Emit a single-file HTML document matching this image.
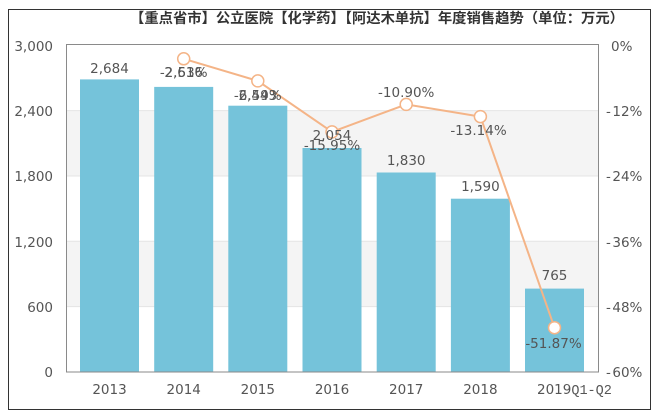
<!DOCTYPE html>
<html><head><meta charset="utf-8">
<style>
html,body{margin:0;padding:0;background:#fff;}
svg{display:block;}
text{font-family:"DejaVu Sans","Liberation Sans",sans-serif;}
</style></head>
<body>
<svg width="662" height="417" viewBox="0 0 662 417" xmlns="http://www.w3.org/2000/svg">
<rect x="0" y="0" width="662" height="417" fill="#fff"/>
<rect x="8.5" y="9.5" width="642" height="400" fill="#fff" stroke="#333" stroke-width="1"/>
<text x="377" y="23" text-anchor="middle" font-size="14" font-weight="bold" fill="#333" textLength="494" lengthAdjust="spacingAndGlyphs" style="font-family:'Liberation Sans','Noto Sans CJK SC',sans-serif">【重点省市】公立医院【化学药】【阿达木单抗】年度销售趋势（单位：万元）</text>
<!-- bands -->
<rect x="66" y="110.6" width="533" height="65.4" fill="#f4f4f4"/>
<rect x="66" y="241.2" width="533" height="65.4" fill="#f4f4f4"/>
<g stroke="#e4e4e4" stroke-width="1">
<line x1="66" y1="110.6" x2="599" y2="110.6"/>
<line x1="66" y1="176" x2="599" y2="176"/>
<line x1="66" y1="241.2" x2="599" y2="241.2"/>
<line x1="66" y1="306.6" x2="599" y2="306.6"/>
</g>
<!-- bars -->
<g fill="#75c3da">
<rect x="80" y="79.4" width="59" height="292.6"/>
<rect x="154.2" y="86.9" width="59" height="285.1"/>
<rect x="228.3" y="105.7" width="59" height="266.3"/>
<rect x="302.5" y="148" width="59" height="224"/>
<rect x="376.7" y="172.5" width="59" height="199.5"/>
<rect x="450.9" y="198.7" width="59" height="173.3"/>
<rect x="525" y="288.6" width="59" height="83.4"/>
</g>
<!-- frame -->
<rect x="66.5" y="44.5" width="532" height="327.5" fill="none" stroke="#8a8a8a" stroke-width="1"/>
<!-- line -->
<polyline points="183.7,58.8 257.8,80.9 332,131.9 406.2,104.4 480.4,116.6 554.5,327.7" fill="none" stroke="#f4b487" stroke-width="2"/>
<g fill="#fff" stroke="#f4b487" stroke-width="1.5">
<circle cx="183.7" cy="58.8" r="6"/>
<circle cx="257.8" cy="80.9" r="6"/>
<circle cx="332" cy="131.9" r="6"/>
<circle cx="406.2" cy="104.4" r="6"/>
<circle cx="480.4" cy="116.6" r="6"/>
<circle cx="554.5" cy="327.7" r="6"/>
</g>
<!-- data labels -->
<g font-size="13.5" fill="#555" text-anchor="middle">
<text x="109.5" y="73">2,684</text>
<text x="183.7" y="77">2,616</text>
<text x="183.7" y="77">-2.53%</text>
<text x="257.8" y="100">2,443</text>
<text x="257.8" y="100">-6.59%</text>
<text x="332" y="140">2,054</text>
<text x="332" y="150">-15.95%</text>
<text x="406.2" y="97">-10.90%</text>
<text x="406.2" y="165">1,830</text>
<text x="478.5" y="135">-13.14%</text>
<text x="480.4" y="191">1,590</text>
<text x="554.5" y="280">765</text>
<text x="553.5" y="348">-51.87%</text>
</g>
<!-- left axis labels -->
<g font-size="13.5" fill="#555" text-anchor="end">
<text x="53" y="51">3,000</text>
<text x="53" y="116">2,400</text>
<text x="53" y="181">1,800</text>
<text x="53" y="247">1,200</text>
<text x="53" y="312">600</text>
<text x="53" y="377">0</text>
</g>
<!-- right axis labels -->
<g font-size="13.5" fill="#555">
<text x="611" y="51">0%</text>
<text x="606" y="116">-<tspan dx="1.5">12%</tspan></text>
<text x="606" y="181">-<tspan dx="1.5">24%</tspan></text>
<text x="606" y="247">-<tspan dx="1.5">36%</tspan></text>
<text x="606" y="312">-<tspan dx="1.5">48%</tspan></text>
<text x="606" y="377">-<tspan dx="1.5">60%</tspan></text>
</g>
<!-- x labels -->
<g font-size="13.5" fill="#555" text-anchor="middle">
<text x="109.5" y="394">2013</text>
<text x="183.7" y="394">2014</text>
<text x="257.8" y="394">2015</text>
<text x="332" y="394">2016</text>
<text x="406.2" y="394">2017</text>
<text x="480.4" y="394">2018</text>
</g>
<text x="537" y="394" font-size="13.5" fill="#555">2019<tspan font-size="13.5" style="font-family:'Liberation Mono',monospace">Q1-Q2</tspan></text>
</svg>
</body></html>
